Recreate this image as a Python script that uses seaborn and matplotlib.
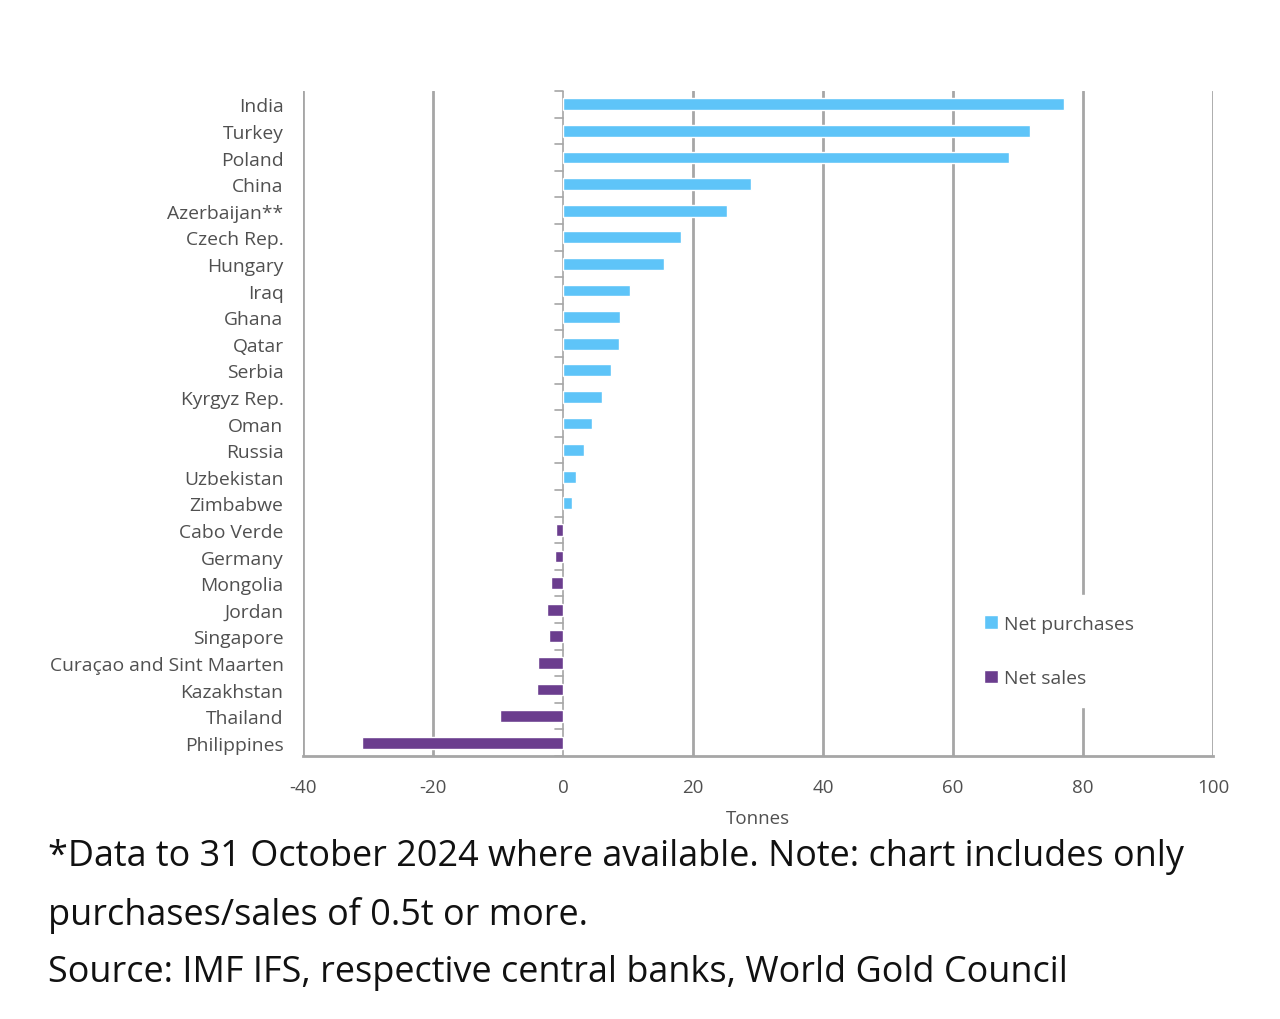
import pandas as pd
import numpy as np
import seaborn as sns
import matplotlib.pyplot as plt

countries = ['India', 'Turkey', 'Poland', 'China', 'Azerbaijan**', 'Czech Rep.',
             'Hungary', 'Iraq', 'Ghana', 'Qatar', 'Serbia', 'Kyrgyz Rep.', 'Oman',
             'Russia', 'Uzbekistan', 'Zimbabwe', 'Cabo Verde', 'Germany', 'Mongolia',
             'Jordan', 'Singapore', 'Curaçao and Sint Maarten', 'Kazakhstan',
             'Thailand', 'Philippines']
tonnes = [77.1, 71.8, 68.6, 28.9, 25.2, 18.2, 15.5, 10.3, 8.8, 8.6, 7.4, 6.0, 4.5,
          3.2, 2.0, 1.4, -1.1, -1.2, -1.8, -2.5, -2.2, -3.8, -4.0, -9.7, -30.9]
x_ticks = [-40, -20, 0, 20, 40, 60, 80, 100]

footnote = ('*Data to 31 October 2024 where available. Note: chart includes only\n'
            'purchases/sales of 0.5t or more.\n'
            'Source: IMF IFS, respective central banks, World Gold Council')

dt = pd.DataFrame({'country': countries, 'tonnes': tonnes})
dt['kind'] = np.where(dt['tonnes'] >= 0, 'Net purchases', 'Net sales')

sns.set_style('white')
plt.rcParams['font.family'] = ['Open Sans', 'DejaVu Sans']

fig = plt.figure(figsize=(12.8, 10.2), dpi=100)
ax = fig.add_axes([303 / 1280, 1 - 757 / 1020, 910 / 1280, 665 / 1020])

grid_col = '#a6a6a6'
text_col = '#505050'
for t in x_ticks:
    if t != 0:
        ax.axvline(t, color=grid_col, lw=2, zorder=0)

sns.barplot(data=dt, y='country', x='tonnes', hue='kind', orient='h',
            palette={'Net purchases': '#5ec4f8', 'Net sales': '#6b3d8e'},
            dodge=False, width=0.44, saturation=1, ax=ax)
for p in ax.patches:
    p.set_zorder(4)

# zero line with small category separator ticks
ax.axvline(0, color=grid_col, lw=1.2, zorder=3)
n = len(countries)
for i in range(n + 1):
    ax.plot([-1.2, 0], [i - 0.5, i - 0.5], color=grid_col, lw=1.2, zorder=3,
            clip_on=False)

ax.set_xlim(-40, 100)
ax.set_ylim(n - 0.5, -0.5)
ax.set_xticks(x_ticks)
ax.set_xticklabels([str(t) for t in x_ticks])
ax.tick_params(axis='x', length=0, pad=16, labelsize=13.5, labelcolor=text_col)
ax.tick_params(axis='y', length=0, pad=14, labelsize=13.9, labelcolor=text_col)
ax.set_xlabel('Tonnes', fontsize=13.5, color=text_col, labelpad=9)
ax.set_ylabel('')

for s in ['top', 'right', 'left']:
    ax.spines[s].set_visible(False)
ax.spines['bottom'].set_color(grid_col)
ax.spines['bottom'].set_linewidth(2)

leg = ax.legend(loc='center left', bbox_to_anchor=(0.717, 0.158), frameon=True,
                fontsize=13.9, labelspacing=1.9, handlelength=0.7, handleheight=0.7,
                handletextpad=0.3, borderpad=1.0, labelcolor=text_col)
leg.get_frame().set_facecolor('white')
leg.get_frame().set_edgecolor('white')
leg.get_frame().set_alpha(1)
leg.set_zorder(5)

fig.text(48 / 1280, 1 - 839 / 1020, footnote, fontsize=25.9, color='#111111',
         va='top', ha='left', linespacing=1.79)

fig.savefig('out.png', dpi=100, facecolor='white')
